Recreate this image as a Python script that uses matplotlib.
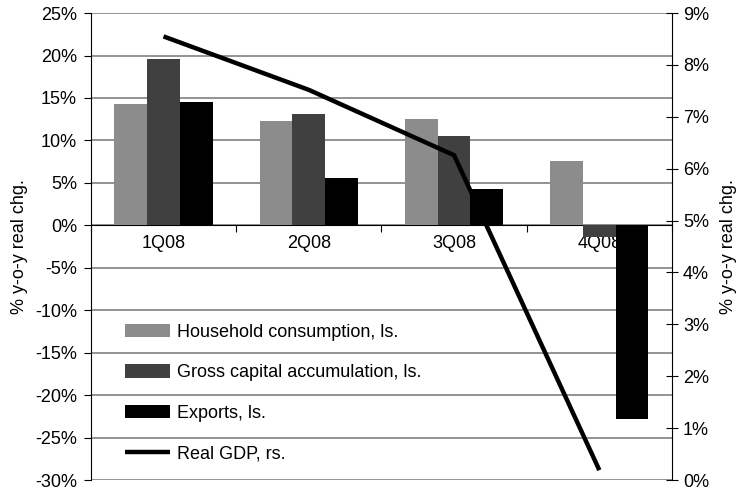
import numpy as np
import matplotlib
matplotlib.use("Agg")
import matplotlib.pyplot as plt
from matplotlib.ticker import FuncFormatter

plt.rcParams['font.family'] = ['Liberation Sans', 'DejaVu Sans']

# Data
quarters = ["1Q08", "2Q08", "3Q08", "4Q08"]
household = [14.3, 12.3, 12.5, 7.6]
gross_capital = [19.6, 13.1, 10.5, -1.4]
exports = [14.5, 5.6, 4.3, -22.8]
real_gdp = [8.55, 7.52, 6.26, 0.19]

fig = plt.figure(figsize=(7.45, 4.91), dpi=100)
ax = fig.add_axes([0.122, 0.0224, 0.780, 0.951])
ax2 = ax.twinx()

x = np.arange(len(quarters))
width = 0.225
fs = 13

b1 = ax.bar(x - width, household, width, color='#8c8c8c', label='Household consumption, ls.', zorder=3)
b2 = ax.bar(x, gross_capital, width, color='#404040', label='Gross capital accumulation, ls.', zorder=3)
b3 = ax.bar(x + width, exports, width, color='#000000', label='Exports, ls.', zorder=3)

ln, = ax2.plot(x, real_gdp, color='black', lw=3.2, label='Real GDP, rs.', solid_capstyle='butt')

# Left axis
ax.set_xlim(-0.5, len(quarters) - 0.5)
ax.set_ylim(-30, 25)
ax.set_yticks(np.arange(-30, 26, 5))
ax.yaxis.set_major_formatter(FuncFormatter(lambda v, p: f"{v:.0f}%"))
ax.yaxis.grid(True, color='#808080', lw=1.2, zorder=0)
ax.set_axisbelow(True)
ax.tick_params(axis='y', labelsize=fs, direction='out', length=5, pad=5, color='black')
ax.set_ylabel('% y-o-y real chg.', fontsize=fs, labelpad=5)

# Category axis at zero
ax.spines['bottom'].set_position(('data', 0))
ax.spines['top'].set_visible(False)
ax.spines['right'].set_visible(False)
ax.set_xticks(np.arange(-0.5, len(quarters), 1.0))
ax.set_xticklabels([])
ax.set_xticks(x, minor=True)
ax.set_xticklabels(quarters, minor=True)
ax.tick_params(axis='x', which='major', direction='out', length=5)
ax.tick_params(axis='x', which='minor', length=0, labelsize=fs, pad=7)

# Right axis
ax2.set_ylim(0, 9)
ax2.set_yticks(np.arange(0, 10, 1))
ax2.yaxis.set_major_formatter(FuncFormatter(lambda v, p: f"{v:.0f}%"))
ax2.tick_params(axis='y', labelsize=fs, direction='inout', length=9)
ax2.set_ylabel('% y-o-y real chg.', fontsize=fs, labelpad=8)
ax2.spines['top'].set_visible(False)
ax2.spines['bottom'].set_visible(False)
ax2.spines['left'].set_visible(False)

ax2.legend([b1, b2, b3, ln],
           [b1.get_label(), b2.get_label(), b3.get_label(), ln.get_label()],
           loc='lower left', bbox_to_anchor=(0.03, 0.003), frameon=False,
           fontsize=fs, handlelength=2.5, handleheight=0.75,
           labelspacing=1.3, handletextpad=0.4)

fig.savefig('out.png', dpi=100)
